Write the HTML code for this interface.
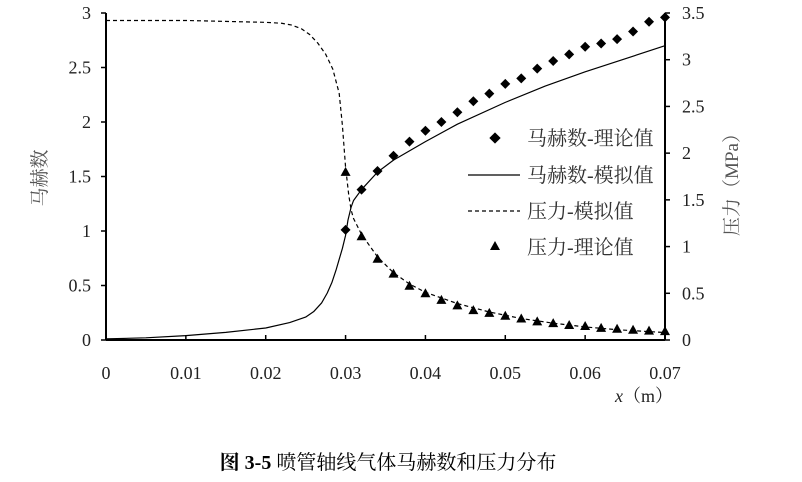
<!DOCTYPE html>
<html><head><meta charset="utf-8"><style>
body{margin:0;background:#fff;}
svg{display:block;font-family:"Liberation Serif","Noto Serif CJK SC",serif;}
</style></head><body>
<svg id="chart" width="802" height="482" viewBox="0 0 802 482" xmlns="http://www.w3.org/2000/svg">
<g id="axes"></g>
<g id="series"></g>
<g id="legend" font-size="20" fill="#333">
  <g>
    <rect x="491" y="134" width="8" height="8" transform="rotate(45 495 138)" fill="#000"/>
    <text x="527" y="145">马赫数-理论值</text></g>
  <g>
    <line x1="468" y1="175" x2="520" y2="175" stroke="#000" stroke-width="1.3"/>
    <text x="527" y="182">马赫数-模拟值</text></g>
  <g>
    <line x1="468" y1="211" x2="520" y2="211" stroke="#000" stroke-width="1.3" stroke-dasharray="4,3"/>
    <text x="527" y="218">压力-模拟值</text></g>
  <g>
    <polygon points="495,241 500,250 490,250" fill="#000"/>
    <text x="527" y="254">压力-理论值</text></g>
</g>
<text transform="translate(46,178) rotate(-90)" text-anchor="middle" font-size="19" fill="#555">马赫数</text>
<text transform="translate(738,180) rotate(-90)" text-anchor="middle" font-size="19" fill="#555">压力（MPa）</text>
<text x="615" y="402" font-size="18" fill="#222"><tspan font-style="italic">x</tspan>（m）</text>
<text x="388" y="469" text-anchor="middle" font-size="20" fill="#000"><tspan font-weight="bold">图 3-5</tspan>  喷管轴线气体马赫数和压力分布</text>
</svg>
<script>
const xTicks=[0,0.01,0.02,0.03,0.04,0.05,0.06,0.07];
const xTickLabels=["0","0.01","0.02","0.03","0.04","0.05","0.06","0.07"];
const yLeftTicks=[0,0.5,1,1.5,2,2.5,3];
const yLeftLabels=["0","0.5","1","1.5","2","2.5","3"];
const yRightTicks=[0,0.5,1,1.5,2,2.5,3,3.5];
const yRightLabels=["0","0.5","1","1.5","2","2.5","3","3.5"];
const theoryX=[0.030,0.032,0.034,0.036,0.038,0.040,0.042,0.044,0.046,0.048,0.050,0.052,0.054,0.056,0.058,0.060,0.062,0.064,0.066,0.068,0.070];
const machTheory=[1.01,1.38,1.55,1.69,1.82,1.92,2.00,2.09,2.19,2.26,2.35,2.40,2.49,2.56,2.62,2.69,2.72,2.76,2.83,2.92,2.96];
const pressureTheory=[1.80,1.11,0.87,0.71,0.58,0.50,0.43,0.37,0.32,0.29,0.26,0.23,0.20,0.18,0.16,0.15,0.13,0.12,0.11,0.10,0.095];
const machSimX=[0,0.005,0.01,0.015,0.02,0.023,0.025,0.026,0.027,0.0277,0.0283,0.0288,0.0292,0.0296,0.030,0.0303,0.0307,0.031,0.032,0.034,0.036,0.04,0.044,0.05,0.055,0.06,0.065,0.07];
const machSimY=[0.01,0.02,0.04,0.07,0.11,0.16,0.21,0.26,0.34,0.43,0.53,0.64,0.74,0.84,0.96,1.10,1.22,1.28,1.38,1.54,1.65,1.82,1.98,2.18,2.33,2.46,2.58,2.70];
const presSimX=[0,0.01,0.02,0.022,0.0233,0.0245,0.0255,0.0265,0.0275,0.0284,0.0292,0.0296,0.030,0.0304,0.0307,0.031,0.032,0.034,0.036,0.038,0.04,0.044,0.048,0.052,0.056,0.06,0.064,0.07];
const presSimY=[3.42,3.42,3.40,3.39,3.37,3.33,3.27,3.18,3.06,2.90,2.64,2.30,1.85,1.55,1.39,1.30,1.13,0.89,0.72,0.60,0.51,0.39,0.30,0.23,0.18,0.14,0.11,0.08];

const NS="http://www.w3.org/2000/svg";
const X0=106,X1=665,Y0=340,YT=13;
const xs=v=>X0+(X1-X0)*v/0.07;
const yl=v=>Y0-(Y0-YT)*v/3;
const yr=v=>Y0-(Y0-YT)*v/3.5;
function mk(tag,attrs,parent){const e=document.createElementNS(NS,tag);for(const k in attrs)e.setAttribute(k,attrs[k]);parent.appendChild(e);return e;}
const ax=document.getElementById('axes'),se=document.getElementById('series');
let e;
e=mk('line',{x1:X0,y1:YT,x2:X0,y2:Y0,stroke:'#000','stroke-width':2},ax);


e=mk('line',{x1:X1,y1:YT,x2:X1,y2:Y0,stroke:'#000','stroke-width':2},ax);


e=mk('line',{x1:X0,y1:Y0,x2:X1,y2:Y0,stroke:'#000','stroke-width':2},ax);


xTicks.forEach((v,i)=>{
  mk('line',{x1:xs(v),y1:Y0,x2:xs(v),y2:Y0-5,stroke:'#000','stroke-width':1.5},ax);
  const t=mk('text',{x:xs(v),y:379,'text-anchor':'middle','font-size':18,fill:'#222'},ax);
  t.textContent=xTickLabels[i];
  
  
});
yLeftTicks.forEach((v,i)=>{
  mk('line',{x1:X0,y1:yl(v),x2:X0-5,y2:yl(v),stroke:'#000','stroke-width':1.5},ax);
  const t=mk('text',{x:X0-15,y:yl(v)+6,'text-anchor':'end','font-size':18,fill:'#222'},ax);
  t.textContent=yLeftLabels[i];
  
  
});
yRightTicks.forEach((v,i)=>{
  mk('line',{x1:X1,y1:yr(v),x2:X1+5,y2:yr(v),stroke:'#000','stroke-width':1.5},ax);
  const t=mk('text',{x:X1+17,y:yr(v)+6,'text-anchor':'start','font-size':18,fill:'#222'},ax);
  t.textContent=yRightLabels[i];
  
  
});
e=mk('polyline',{points:machSimX.map((x,i)=>xs(x)+','+yl(machSimY[i])).join(' '),fill:'none',stroke:'#000','stroke-width':1.2,'stroke-linejoin':'round'},se);


e=mk('polyline',{points:presSimX.map((x,i)=>xs(x)+','+yr(presSimY[i])).join(' '),fill:'none',stroke:'#000','stroke-width':1.2,'stroke-dasharray':'4,3'},se);


theoryX.forEach((x,i)=>{
  const cx=xs(x),cy=yl(machTheory[i]);
  const d=mk('polygon',{points:`${cx},${cy-5} ${cx+5},${cy} ${cx},${cy+5} ${cx-5},${cy}`,fill:'#000'},se);
  
  
  const ty=yr(pressureTheory[i]);
  const t=mk('polygon',{points:`${cx},${ty-5} ${cx+5},${ty+4} ${cx-5},${ty+4}`,fill:'#000'},se);
  
  
});
</script>
</body></html>
